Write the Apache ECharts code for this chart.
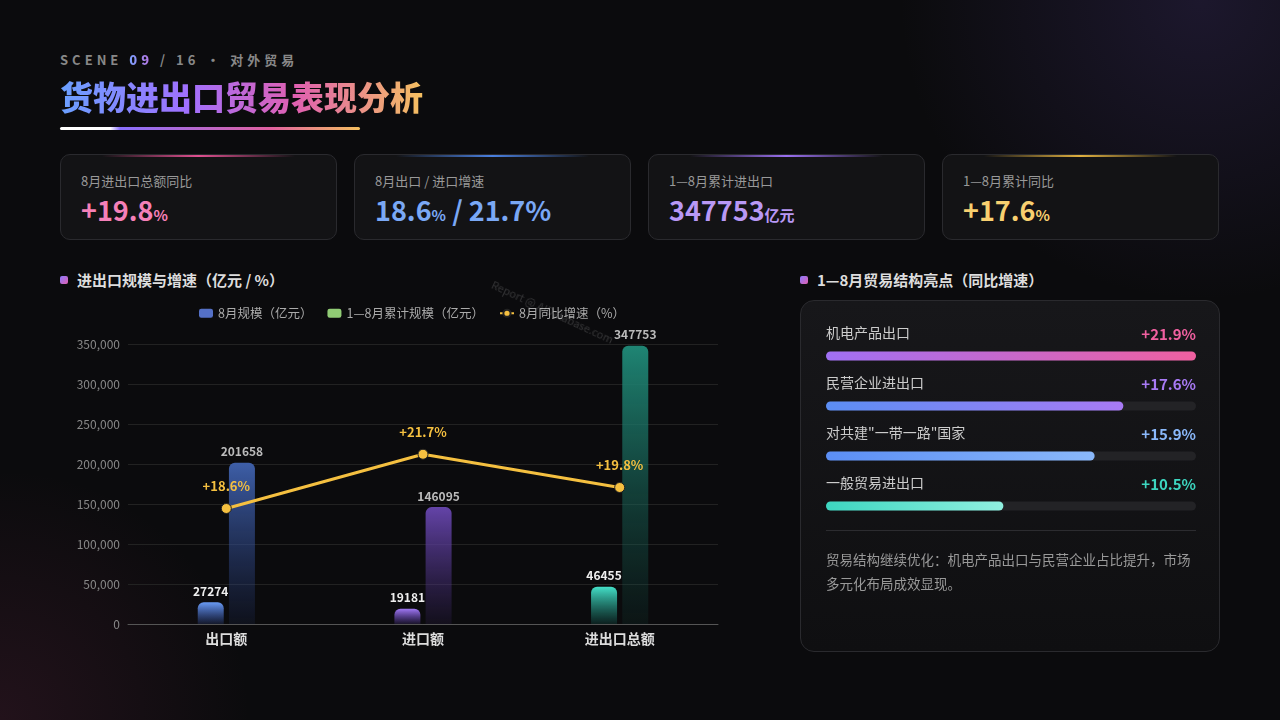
<!DOCTYPE html>
<html><head><meta charset="utf-8">
<script src="https://cdn.jsdelivr.net/npm/echarts@6/dist/echarts.min.js"></script>
<style>
body{margin:0;width:1280px;height:720px;overflow:hidden;font-family:"Noto Sans CJK SC","Noto Sans",sans-serif;color:#ddd;
background:radial-gradient(circle at 1200px 0px,rgba(80,60,140,.25),transparent 300px),radial-gradient(circle at 0px 720px,rgba(140,50,90,.18),transparent 250px),#0b0b0d;position:relative}
.abs{position:absolute}
.scene{left:60px;top:50px;font-size:13px;letter-spacing:4px;color:#888;font-weight:bold}
.scene b{background:linear-gradient(90deg,#7aa0ff,#c070e0);-webkit-background-clip:text;color:transparent}
.title{left:60px;top:72px;font-size:33px;font-weight:900;background:linear-gradient(90deg,#6aa0ff,#a070ff 35%,#e060b0 65%,#f5c060);-webkit-background-clip:text;color:transparent}
.uline{left:60px;top:127px;width:300px;height:3px;border-radius:2px;background:linear-gradient(90deg,#fff 0,#fff 50px,#8a70ff 60px,#e060a0 70%,#f5c060)}
.card{top:154px;width:275px;height:84px;border:1px solid #2a2a2e;border-radius:10px;background:#131315;overflow:hidden}
.card .bar{position:absolute;top:0;left:15%;width:70%;height:2px}
.card .lb{position:absolute;left:20px;top:16px;font-size:13px;color:#999}
.card .v{position:absolute;left:20px;top:35px;font-size:27px;font-weight:bold}
.card .v small{font-size:15px}
.sec{top:269px;font-size:15px;font-weight:bold;color:#ddd}
.sec i{display:inline-block;width:8px;height:8px;border-radius:2px;background:linear-gradient(135deg,#8a7aff,#e060b0);margin-right:9px;vertical-align:2px}
.panel{left:800px;top:300px;width:418px;height:350px;border:1px solid #2a2a2e;border-radius:14px;background:linear-gradient(180deg,#17171a,#0f0f11)}
.wm{left:496px;top:276px;font-size:11px;color:rgba(255,255,255,.16);transform:rotate(25deg);transform-origin:0 0;white-space:nowrap;z-index:5}
</style></head><body>
<div class="abs scene">SCENE <b>09</b> / 16 · 对外贸易</div>
<div class="abs title">货物进出口贸易表现分析</div>
<div class="abs uline"></div>
<div class="abs card" style="left:60px"><div class="bar" style="background:linear-gradient(90deg,transparent,#e05090,transparent)"></div><div class="lb">8月进出口总额同比</div><div class="v" style="color:#f580b8">+19.8<small>%</small></div></div>
<div class="abs card" style="left:354px"><div class="bar" style="background:linear-gradient(90deg,transparent,#4a80e0,transparent)"></div><div class="lb">8月出口 / 进口增速</div><div class="v" style="color:#7aa8f5">18.6<small>%</small> / 21.7%</div></div>
<div class="abs card" style="left:648px"><div class="bar" style="background:linear-gradient(90deg,transparent,#9a70f0,transparent)"></div><div class="lb">1—8月累计进出口</div><div class="v" style="color:#b898f5">347753<small>亿元</small></div></div>
<div class="abs card" style="left:942px"><div class="bar" style="background:linear-gradient(90deg,transparent,#e0b040,transparent)"></div><div class="lb">1—8月累计同比</div><div class="v" style="color:#f8d070">+17.6<small>%</small></div></div>
<div class="abs sec" style="left:60px"><i></i>进出口规模与增速（亿元 / %）</div>
<div class="abs sec" style="left:800px"><i></i>1—8月贸易结构亮点（同比增速）</div>
<div class="abs" id="main" style="left:60px;top:290px;width:670px;height:370px"></div>
<div class="abs wm">Report @ AIDatabase.com</div>
<div class="abs panel">
  <div class="abs" id="side" style="left:0;top:10px;width:418px;height:235px"></div>
  <div class="abs" style="left:25px;top:229px;width:370px;height:1px;background:#2c2c30"></div>
  <div class="abs" style="left:25px;top:246px;width:375px;font-size:13.5px;line-height:24px;color:#999">贸易结构继续优化：机电产品出口与民营企业占比提升，市场多元化布局成效显现。</div>
</div>
<script>
var categories = ['出口额', '进口额', '进出口总额'];
var monthValues = [27274, 19181, 46455];
var cumValues = [201658, 146095, 347753];
var growthValues = [18.6, 21.7, 19.8];
var yTicks = [0, 50000, 100000, 150000, 200000, 250000, 300000, 350000];

var sideNames = ['机电产品出口', '民营企业进出口', '对共建"一带一路"国家', '一般贸易进出口'];
var sideValues = [21.9, 17.6, 15.9, 10.5];

var monthColors = [['#6a9cf5', 'rgba(70,110,220,0.15)'], ['#a27af5', 'rgba(120,80,220,0.15)'], ['#45e0c8', 'rgba(30,160,140,0.15)']];
var cumColors = [['#3e5fa8', 'rgba(40,60,120,0.15)'], ['#6444a8', 'rgba(70,45,120,0.15)'], ['#1f8574', 'rgba(20,80,70,0.15)']];
var sideColors = [['#a070f5', '#f060a0'], ['#5b8ef5', '#a87af5'], ['#5b8ef5', '#8ab8fa'], ['#3dd6c0', '#90f0e0']];
var sideTextColors = ['#f060a0', '#a87af5', '#8ab8fa', '#3dd6c0'];

function vgrad(c) {
  return new echarts.graphic.LinearGradient(0, 0, 0, 1, [{offset: 0, color: c[0]}, {offset: 1, color: c[1]}]);
}
function hgrad(c) {
  return new echarts.graphic.LinearGradient(0, 0, 1, 0, [{offset: 0, color: c[0]}, {offset: 1, color: c[1]}]);
}

var myChart = echarts.init(document.getElementById('main'));
myChart.setOption({
  textStyle: {fontFamily: 'Noto Sans CJK SC'},
  legend: {
    top: 12, left: 134, itemWidth: 14, itemHeight: 9, itemGap: 15,
    textStyle: {color: '#aaa', fontSize: 12.5},
    data: [
      {name: '8月规模（亿元）', itemStyle: {color: '#5470c6'}},
      {name: '1—8月累计规模（亿元）', itemStyle: {color: '#91cc75'}},
      {name: '8月同比增速（%）', itemStyle: {color: '#f5c040'}}
    ]
  },
  grid: {left: 68, right: 12, top: 54, bottom: 36},
  xAxis: {
    type: 'category', data: categories,
    axisLine: {lineStyle: {color: '#555'}}, axisTick: {show: false},
    axisLabel: {color: '#ddd', fontSize: 14, fontWeight: 'bold', margin: 8}
  },
  yAxis: [{
    type: 'value', min: 0, max: 350000, interval: 50000,
    axisLabel: {color: '#888', fontSize: 12, formatter: function(v) { return yTicks.indexOf(v) >= 0 ? v.toLocaleString('en-US') : ''; }},
    splitLine: {lineStyle: {color: '#222'}}
  }, {
    type: 'value', min: 12, max: 28, show: false
  }],
  series: [{
    name: '8月规模（亿元）', type: 'bar', barWidth: 26, barGap: '20%',
    data: monthValues.map(function(v, i) { return {value: v, itemStyle: {color: vgrad(monthColors[i]), borderRadius: [6, 6, 0, 0]}}; }),
    label: {show: true, position: 'top', color: '#eee', fontWeight: 'bold', fontSize: 12}
  }, {
    name: '1—8月累计规模（亿元）', type: 'bar', barWidth: 26,
    data: cumValues.map(function(v, i) { return {value: v, itemStyle: {color: vgrad(cumColors[i]), borderRadius: [6, 6, 0, 0]}}; }),
    label: {show: true, position: 'top', color: '#bbb', fontWeight: 'bold', fontSize: 12}
  }, {
    name: '8月同比增速（%）', type: 'line', yAxisIndex: 1, data: growthValues,
    symbol: 'circle', symbolSize: 10,
    lineStyle: {color: '#f5c040', width: 3},
    itemStyle: {color: '#f5c040', borderColor: '#222', borderWidth: 1},
    label: {show: true, position: 'top', distance: 10, color: '#f5c040', fontWeight: 'bold', fontSize: 13, formatter: function(p) { return '+' + p.value + '%'; }}
  }]
});

var sideChart = echarts.init(document.getElementById('side'));
var sideMax = Math.max.apply(null, sideValues);
sideChart.setOption({
  textStyle: {fontFamily: 'Noto Sans CJK SC'},
  grid: {left: 25, right: 23, top: 20, height: 200},
  xAxis: {type: 'value', min: 0, max: sideMax, show: false},
  yAxis: {type: 'category', data: sideNames, inverse: true, show: false},
  series: [{
    type: 'bar', barWidth: 9, barGap: '-100%', silent: true,
    data: sideValues.map(function(v, i) { return {value: sideMax, label: {color: sideTextColors[i]}}; }),
    itemStyle: {color: '#232326', borderRadius: 5},
    label: {show: true, position: ['100%', -25], align: 'right', fontSize: 15, fontWeight: 'bold',
      formatter: function(p) { return '+' + sideValues[p.dataIndex] + '%'; }}
  }, {
    type: 'bar', barWidth: 9,
    data: sideValues.map(function(v, i) { return {value: v, itemStyle: {color: hgrad(sideColors[i]), borderRadius: 5}}; }),
    label: {show: true, position: [0, -26], color: '#ccc', fontSize: 14, formatter: function(p) { return p.name; }}
  }]
});
</script>
</body></html>
